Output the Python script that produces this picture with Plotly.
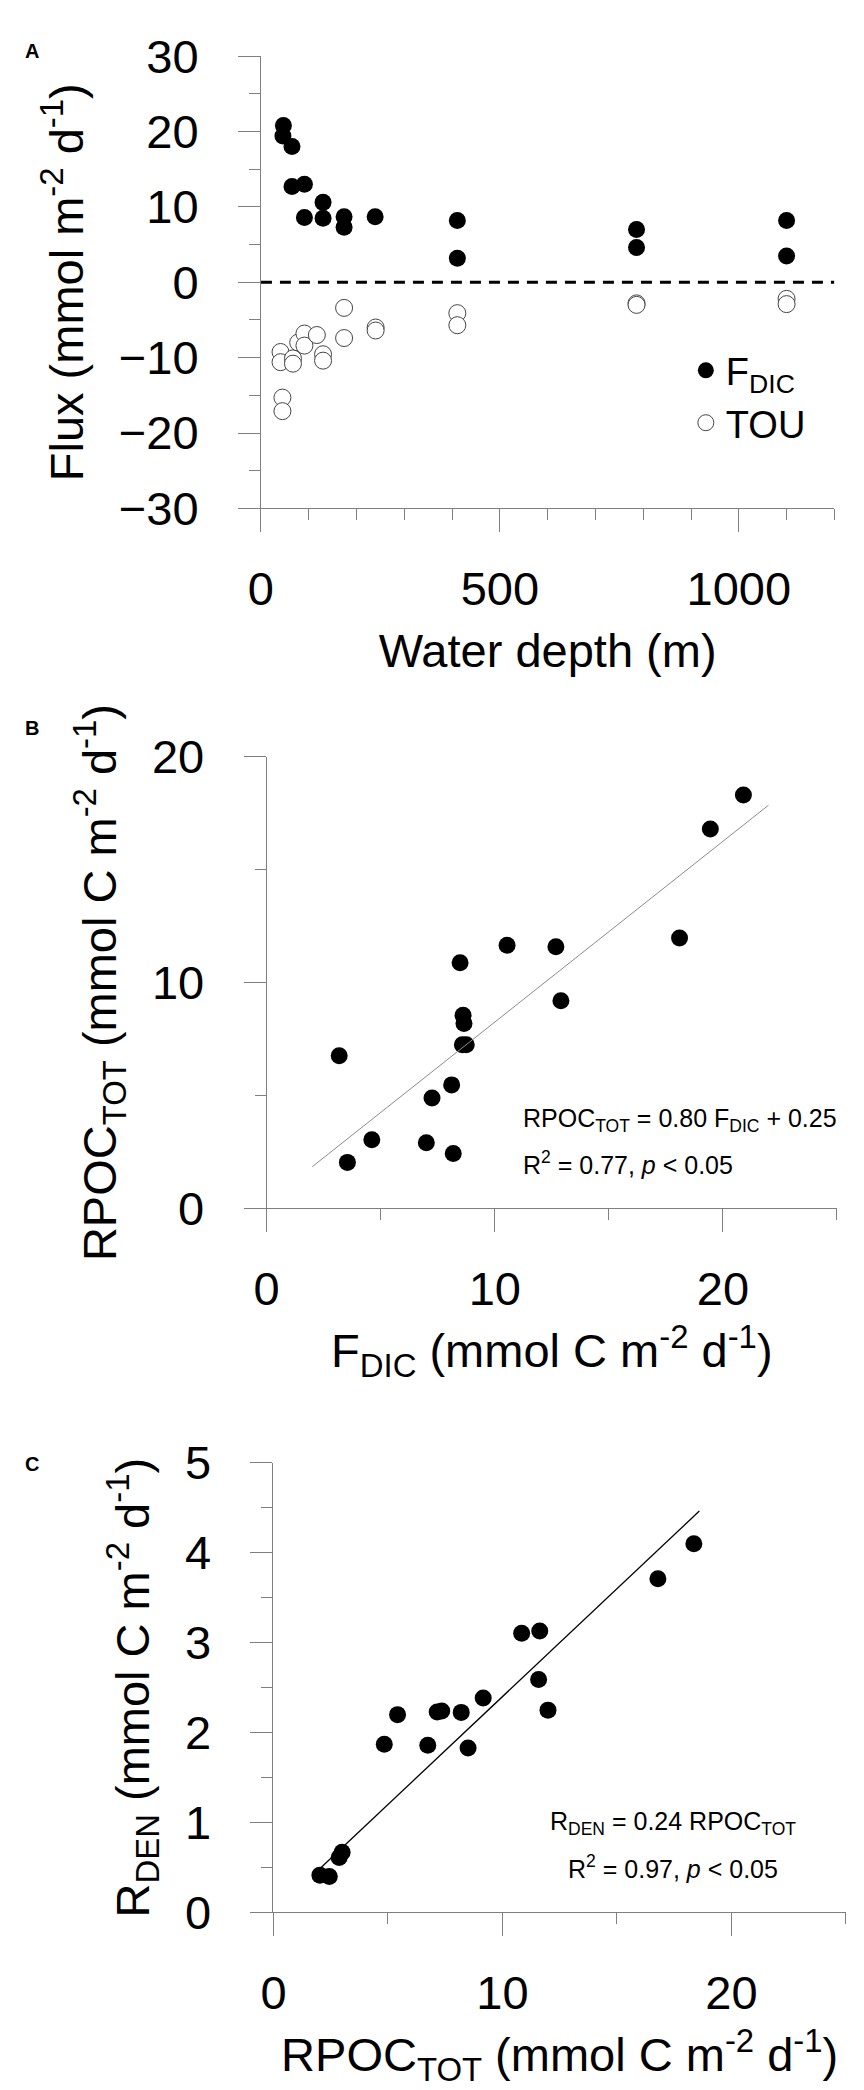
import numpy as np
import plotly.graph_objects as go

W, H = 864, 2090

# ---------------- data ----------------
# Panel A
depth_fdic = [47, 46, 65, 65, 91, 91, 130, 130, 174, 174, 239, 411, 411, 786, 786, 1100, 1100]
flux_fdic = [20.8, 19.4, 18.0, 12.7, 13.0, 8.6, 10.6, 8.5, 8.7, 7.3, 8.7, 8.2, 3.2, 7.0, 4.6, 8.2, 3.5]
depth_tou = [41, 41, 45, 45, 67, 67, 78, 91, 91, 117, 130, 130, 174, 174, 240, 240, 411, 411, 786, 786, 1100, 1100]
flux_tou = [-9.25, -10.6, -15.3, -17.1, -10.1, -10.8, -8.0, -6.8, -8.4, -7.0, -9.55, -10.4,
            -3.4, -7.4, -6.0, -6.4, -4.1, -5.7, -2.8, -3.0, -2.2, -2.9]

# Panel B
fdic_b = [20.9, 19.45, 18.1, 10.54, 12.68, 8.48, 12.90, 8.61, 8.65, 8.58, 8.75, 3.18, 8.11, 7.25, 4.61, 7.0, 8.18, 3.54]
rpoc_b = [18.3, 16.8, 11.97, 11.65, 11.58, 10.88, 9.19, 8.55, 8.19, 7.25, 7.25, 6.76, 5.47, 4.89, 3.04, 2.91, 2.43, 2.04]
fit_b_slope, fit_b_icpt = 0.80, 0.25
fit_b_x = [2.0, 22.0]

# Panel C
rpoc_c = [18.36, 16.79, 10.84, 11.63, 11.58, 9.16, 11.99, 7.15, 7.35, 8.2, 5.42, 4.84, 6.74, 8.5, 3.0, 2.87, 2.03, 2.44]
rden_c = [4.1, 3.71, 3.105, 3.13, 2.59, 2.385, 2.25, 2.23, 2.24, 2.225, 2.20, 1.87, 1.86, 1.83, 0.67, 0.61, 0.415, 0.40]
fit_c_slope = 0.24
fit_c_x = [2.0, 18.6]

# ---------------- helpers ----------------
def dom_x(a, b):
    return [a / W, b / W]

def dom_y(top, bottom):
    return [1 - bottom / H, 1 - top / H]

FONT = "Liberation Sans, Arial, sans-serif"
AX = "#7f7f7f"

fig = go.Figure()

# Panel A
fig.add_trace(go.Scatter(x=depth_fdic, y=flux_fdic, mode="markers", name="F<sub>DIC</sub>",
                         marker=dict(color="black", size=17, line=dict(width=0)),
                         xaxis="x", yaxis="y"))
fig.add_trace(go.Scatter(x=depth_tou, y=flux_tou, mode="markers", name="TOU",
                         marker=dict(color="white", size=17, line=dict(width=1, color="#444444")),
                         xaxis="x", yaxis="y"))

# Panel B
fig.add_trace(go.Scatter(x=fdic_b, y=rpoc_b, mode="markers", showlegend=False,
                         marker=dict(color="black", size=17), xaxis="x2", yaxis="y2"))
fb = np.array(fit_b_x)
fig.add_trace(go.Scatter(x=fb, y=fit_b_slope * fb + fit_b_icpt, mode="lines", showlegend=False,
                         line=dict(color="#8a8a8a", width=1), xaxis="x2", yaxis="y2"))

# Panel C
fig.add_trace(go.Scatter(x=rpoc_c, y=rden_c, mode="markers", showlegend=False,
                         marker=dict(color="black", size=17), xaxis="x3", yaxis="y3"))
fc = np.array(fit_c_x)
fig.add_trace(go.Scatter(x=fc, y=fit_c_slope * fc, mode="lines", showlegend=False,
                         line=dict(color="black", width=1.3), xaxis="x3", yaxis="y3"))

tickfont = dict(family=FONT, size=47, color="black")
titlefont = dict(family=FONT, size=47, color="black")

def xaxis(dom, anchor, rng, dtick, mdtick, title, standoff):
    return dict(domain=dom, anchor=anchor, range=rng, dtick=dtick, tick0=0,
                showgrid=False, zeroline=False, showline=True, linecolor=AX, linewidth=1,
                ticks="outside", ticklen=23, tickcolor=AX, tickwidth=1,
                minor=dict(dtick=mdtick, tick0=0, ticks="outside", ticklen=11, tickcolor=AX, tickwidth=1, showgrid=False),
                tickfont=tickfont, ticklabelstandoff=16,
                title=dict(text=title, font=titlefont, standoff=standoff), fixedrange=True)

def yaxis(dom, anchor, rng, dtick, mdtick, title, standoff):
    return dict(domain=dom, anchor=anchor, range=rng, dtick=dtick, tick0=0,
                showgrid=False, zeroline=False, showline=True, linecolor=AX, linewidth=1,
                ticks="outside", ticklen=22, tickcolor=AX, tickwidth=1,
                minor=dict(dtick=mdtick, tick0=0, ticks="outside", ticklen=11, tickcolor=AX, tickwidth=1, showgrid=False),
                tickfont=tickfont, ticklabelstandoff=30,
                title=dict(text=title, font=titlefont, standoff=standoff), fixedrange=True)

fig.update_layout(
    width=W, height=H, margin=dict(l=0, r=0, t=0, b=0),
    paper_bgcolor="white", plot_bgcolor="white",
    showlegend=True,
    legend=dict(x=675 / W, y=1 - 312 / H, xanchor="left", yanchor="top",
                font=dict(family=FONT, size=38, color="black"),
                bgcolor="rgba(0,0,0,0)", itemsizing="trace", tracegroupgap=0),
    xaxis=xaxis(dom_x(243.6, 825.8), "y", [0, 1200], 500, 100, "Water depth (m)", 20),
    yaxis=yaxis(dom_y(21.7, 485.7), "x", [-30, 30], 10, 5, "Flux (mmol m<sup>-2</sup> d<sup>-1</sup>)", 20),
    xaxis2=xaxis(dom_x(249.4, 828.4), "y2", [0, 25], 10, 5, "F<sub>DIC</sub> (mmol C m<sup>-2</sup> d<sup>-1</sup>)", 20),
    yaxis2=yaxis(dom_y(740.4, 1204), "x2", [0, 20], 10, 5, "RPOC<sub>TOT</sub> (mmol C m<sup>-2</sup> d<sup>-1</sup>)", 20),
    xaxis3=xaxis(dom_x(256.3, 837.5), "y3", [0, 25], 10, 5, "RPOC<sub>TOT</sub> (mmol C m<sup>-2</sup> d<sup>-1</sup>)", 20),
    yaxis3=yaxis(dom_y(1465, 1926.3), "x3", [0, 5], 1, 0.5, "R<sub>DEN</sub> (mmol C m<sup>-2</sup> d<sup>-1</sup>)", 20),
)

# zero reference line in panel A
fig.add_shape(type="line", xref="x", yref="y", x0=0, x1=1200, y0=0, y1=0,
              line=dict(color="black", width=3, dash="11px,8px"))

panel_labels = [("A", 16), ("B", 711), ("C", 1466)]
for lab, py in panel_labels:
    fig.add_annotation(xref="paper", yref="paper", x=2 / W, y=1 - py / H, text="<b>" + lab + "</b>",
                       showarrow=False, xanchor="left", yanchor="middle",
                       font=dict(family=FONT, size=20, color="black"))

ann_font = dict(family=FONT, size=25, color="black")
fig.add_annotation(xref="paper", yref="paper", x=508 / W, y=1 - 1113 / H,
                   text="RPOC<sub>TOT</sub> = 0.80 F<sub>DIC</sub> + 0.25",
                   showarrow=False, xanchor="left", yanchor="middle", font=ann_font)
fig.add_annotation(xref="paper", yref="paper", x=508 / W, y=1 - 1157 / H,
                   text="R<sup>2</sup> = 0.77, <i>p</i> < 0.05",
                   showarrow=False, xanchor="left", yanchor="middle", font=ann_font)
fig.add_annotation(xref="paper", yref="paper", x=662 / W, y=1 - 1835 / H,
                   text="R<sub>DEN</sub> = 0.24 RPOC<sub>TOT</sub>",
                   showarrow=False, xanchor="center", yanchor="middle", font=ann_font)
fig.add_annotation(xref="paper", yref="paper", x=662 / W, y=1 - 1880 / H,
                   text="R<sup>2</sup> = 0.97, <i>p</i> < 0.05",
                   showarrow=False, xanchor="center", yanchor="middle", font=ann_font)

fig.write_html("out.html")
